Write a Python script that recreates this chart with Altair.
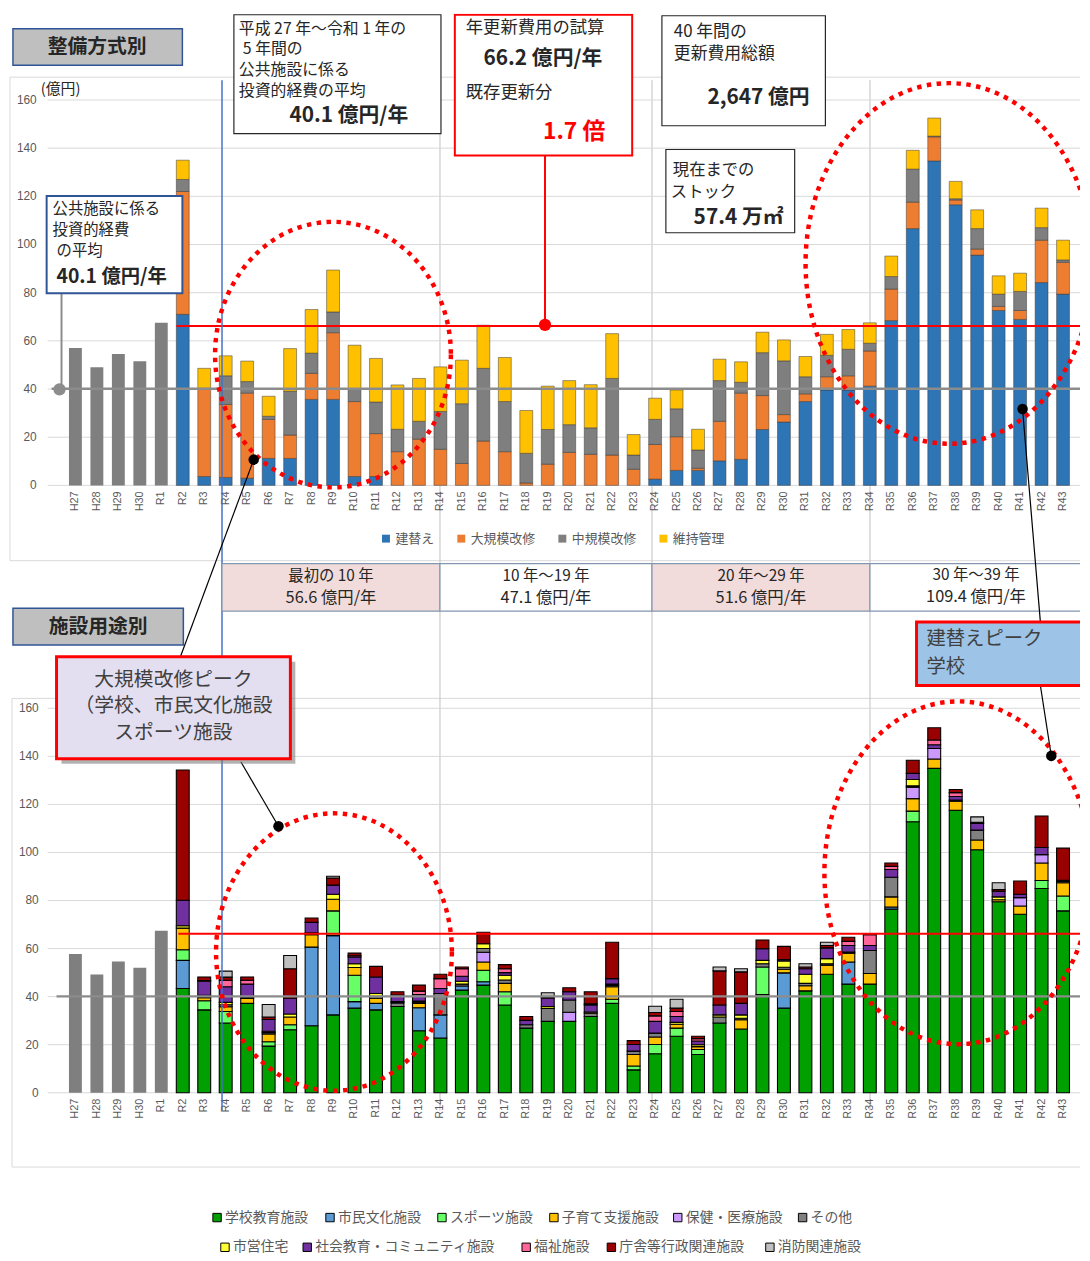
import altair as alt
import pandas as pd

JP = "Noto Sans CJK JP"
LAT = "Liberation Sans"

# ---------------- data ----------------
years = ["H27", "H28", "H29", "H30", "R1", "R2", "R3", "R4", "R5", "R6", "R7", "R8", "R9",
         "R10", "R11", "R12", "R13", "R14", "R15", "R16", "R17", "R18", "R19", "R20", "R21",
         "R22", "R23", "R24", "R25", "R26", "R27", "R28", "R29", "R30", "R31", "R32", "R33",
         "R34", "R35", "R36", "R37", "R38", "R39", "R40", "R41", "R42", "R43"]
actual_years = years[:5]
plan_years = years[5:]
ticks = [0, 20, 40, 60, 80, 100, 120, 140, 160]
avg_line = [40.1]
renew_line = [66.2]

# 整備方式別 (top)
top_actual = [57.0, 49.0, 54.5, 51.5, 67.5]
top_cats = ["建替え", "大規模改修", "中規模改修", "維持管理"]
top_colors = ["#2e75b6", "#ed7d31", "#7f7f7f", "#ffc000"]
top_rebuild = [71.0, 3.7, 3.3, 3.0, 11.2, 11.2, 35.7, 35.7, 3.7, 3.7,
               0, 0, 0, 0, 0, 0, 0, 0, 0, 0, 0, 0,
               2.6, 6.2, 6.2, 10.2, 10.8, 23.2, 26.3, 34.8, 39.6, 39.6,
               41.2, 68.4, 106.6, 134.7, 116.5, 95.6, 72.6, 68.9, 84.2, 79.4]
top_major = [51.0, 36.3, 30.3, 35.3, 16.2, 9.7, 10.8, 27.7, 31.1, 17.8,
             14.0, 19.2, 15.0, 9.1, 18.4, 14.0, 1.0, 8.8, 13.7, 12.9,
             12.6, 6.7, 14.4, 14.0, 0.9, 16.4, 27.5, 14.1, 3.1, 3.2,
             5.5, 5.9, 14.6, 13.1, 11.0, 10.0, 2.0, 2.5, 1.7, 3.7, 17.6, 13.2]
top_mid = [5.0, 0.3, 11.9, 4.8, 1.3, 18.2, 8.4, 8.6, 5.1, 13.1,
           9.3, 7.4, 15.7, 24.8, 30.2, 20.8, 12.3, 14.4, 11.5, 11.0,
           31.8, 5.9, 10.4, 11.6, 7.6, 16.9, 4.5, 17.8, 22.3, 7.1,
           8.9, 11.0, 3.2, 5.2, 13.7, 0.3, 0.5, 8.5, 5.1, 7.9, 5.2, 1.0]
top_maint = [8.0, 8.3, 8.3, 8.5, 8.3, 17.7, 18.1, 17.4, 18.3, 18.1,
             18.4, 17.8, 18.5, 18.1, 17.9, 18.3, 17.8, 18.0, 18.3, 17.9,
             18.6, 8.5, 8.8, 7.8, 8.6, 8.9, 8.5, 8.5, 8.7, 8.4,
             8.7, 8.2, 8.5, 8.5, 7.8, 7.5, 7.2, 7.8, 7.6, 7.6, 8.1, 8.2]

# 施設用途別 (bottom)
bot_actual = [57.7, 49.2, 54.6, 52.0, 67.4]
bot_cats = ["学校教育施設", "市民文化施設", "スポーツ施設", "子育て支援施設", "保健・医療施設", "その他",
            "市営住宅", "社会教育・コミュニティ施設", "福祉施設", "庁舎等行政関連施設", "消防関連施設"]
bot_colors = ["#00a000", "#5b9bd5", "#66ff66", "#ffc000", "#cc99ff", "#808080",
              "#ffff33", "#7030a0", "#ff6699", "#990000", "#bfbfbf"]
school = [43.4, 34.5, 29.0, 37.2, 19.4, 26.2, 27.9, 32.4, 35.2, 34.5,
          35.9, 25.8, 22.8, 42.7, 44.8, 36.5, 26.9, 29.7, 29.7, 31.7,
          37.2, 9.5, 16.2, 23.5, 15.9, 29.0, 26.5, 40.9, 35.2, 42.4,
          49.3, 45.2, 45.2, 76.4, 112.8, 135.0, 117.6, 101.1, 79.5, 74.3, 85.0, 75.7]
culture = [11.7, 0, 0, 0, 0, 0, 32.7, 33.0, 2.7, 2.7,
           0, 9.6, 9.6, 1.7, 1.4, 0, 0, 0, 0, 0,
           0, 0, 0, 0, 0, 0, 0, 0, 14.7, 0,
           0, 9.2, 0, 0.9, 0, 0, 0, 0, 0, 0, 0, 0]
sports = [4.4, 3.8, 4.8, 0, 1.8, 2.1, 0, 10.3, 11.0, 0,
          0, 0, 0, 0, 4.8, 5.5, 0, 0, 0, 0,
          1.7, 1.6, 3.9, 3.4, 2.1, 0, 0, 11.4, 0, 0,
          0, 0, 0, 0, 4.4, 0, 0, 0, 0, 0, 3.3, 6.2]
childcare = [9.0, 1.2, 2.0, 2.0, 3.3, 3.2, 5.2, 4.8, 3.2, 2.1,
             0, 1.8, 0, 0, 3.4, 3.5, 0, 0, 0, 0,
             5.2, 4.8, 3.1, 1.6, 1.2, 0, 3.9, 0, 1.5, 2.1,
             3.8, 3.7, 4.4, 4.2, 5.2, 3.9, 3.7, 4.1, 0.8, 3.4, 7.3, 5.5]
health = [0, 0, 0, 0, 0, 0, 0, 0, 0, 0,
          0, 0, 0, 0, 4.1, 0, 0, 0, 3.8, 0,
          0, 0, 0, 0, 0, 0, 0, 0, 0, 0,
          0, 0, 0, 0, 4.8, 4.4, 0, 0, 0, 3.5, 3.5, 0]
other = [0, 0.5, 0.8, 0.6, 0.6, 0, 0.8, 0, 0, 0.8,
         1.5, 0.5, 8.9, 0.8, 1.5, 1.4, 1.4, 5.4, 5.1, 1.4,
         0.6, 1.4, 1.6, 0, 0, 2.5, 0.6, 1.4, 0.8, 1.0,
         0.6, 0.5, 9.6, 8.2, 0.5, 0, 0.5, 4.1, 0, 0, 0, 0.5]
housing = [1.0, 0.6, 1.0, 0, 0.5, 1.3, 0, 2.1, 1.6, 1.2,
           0.5, 0.5, 0, 1.2, 2.0, 2.0, 0, 0.8, 0, 0.5,
           0.5, 0, 0, 0.8, 0.8, 0.9, 1.4, 1.4, 2.6, 3.8,
           2.1, 0, 0, 0, 2.7, 0, 0, 0, 1.2, 0, 0, 0]
community = [10.6, 5.8, 6.5, 5.4, 4.9, 6.5, 4.3, 3.8, 2.8, 6.9,
             2.8, 2.7, 2.1, 2.1, 0, 1.1, 1.8, 3.4, 3.4, 2.9,
             2.3, 2.8, 4.9, 2.4, 1.5, 4.1, 4.8, 4.8, 0.6, 2.3,
             4.5, 2.7, 2.1, 3.2, 2.5, 1.5, 1.5, 2.8, 2.4, 1.4, 3.0, 0.5]
welfare = [0, 0.3, 2.7, 1.6, 0, 0, 0, 0, 0.5, 0,
           0, 1.4, 4.1, 3.1, 0, 1.6, 0, 0.5, 0, 0.5,
           0, 0, 2.3, 2.1, 1.0, 0, 0, 0, 0, 0,
           0, 1.7, 4.5, 1.3, 0, 2.0, 1.6, 0.5, 0, 0, 0, 0]
admin = [54.2, 1.5, 1.3, 1.4, 1.0, 12.3, 1.8, 3.0, 1.1, 4.4,
         1.3, 2.5, 1.8, 0.7, 4.8, 1.7, 1.6, 0, 1.7, 5.0,
         15.1, 1.6, 1.4, 1.4, 1.0, 14.2, 13.1, 3.7, 5.5, 0.7,
         1.0, 1.7, 0.5, 1.4, 5.5, 5.1, 1.3, 0, 0.7, 5.5, 13.1, 13.4]
fire = [0, 0, 2.5, 0, 5.2, 5.5, 0, 0.7, 0, 0,
        0, 0, 0, 0, 0, 0, 0, 1.8, 0, 0,
        0, 0, 2.6, 3.7, 0, 1.6, 1.3, 0, 0, 1.4,
        1.3, 0, 0, 0, 0, 0, 0, 2.2, 2.8, 0, 0, 0]

top_series = [top_rebuild, top_major, top_mid, top_maint]
bot_series = [school, culture, sports, childcare, health, other, housing,
              community, welfare, admin, fire]
for s in top_series + bot_series:
    assert len(s) == len(plan_years), len(s)


def long_table(cats, series):
    rows = []
    for ci, (cat, vals) in enumerate(zip(cats, series)):
        for yr, v in zip(plan_years, vals):
            if v > 0:
                rows.append({"year": yr, "cat": cat, "value": v, "ord": ci})
    return pd.DataFrame(rows)


top_df = long_table(top_cats, top_series)
bot_df = long_table(bot_cats, bot_series)
top_act_df = pd.DataFrame({"year": actual_years, "value": top_actual})
bot_act_df = pd.DataFrame({"year": actual_years, "value": bot_actual})
tick_df = pd.DataFrame({"v": ticks})
year_df = pd.DataFrame({"year": years})
avg_df = pd.DataFrame({"v": avg_line})
renew_df = pd.DataFrame({"v": renew_line})

# ---------------- layout (page pixel coordinates) ----------------
RIGHT = 1090
# bottom legend item positions (layout only): square x, row y
bot_legend_x = [219, 333, 446, 559, 684, 810, 227, 310, 531, 617, 777]
bot_legend_y = [1223, 1223, 1223, 1223, 1223, 1223, 1253, 1253, 1253, 1253, 1253]


def P(v):
    return v - 8


one = alt.Data(values=[{"k": 1}])


def box(x1, y1, x2, y2, fill="white", stroke="black", sw=1.0, fo=1.0):
    return alt.Chart(one).mark_rect(fill=fill, fillOpacity=fo, stroke=stroke, strokeWidth=sw,
                                    clip=True).encode(
        x=alt.value(P(x1)), x2=alt.value(P(x2)), y=alt.value(P(y1)), y2=alt.value(P(y2)))


def txt(x, y, s, size=18, weight="normal", color="#262626", align="left", font=JP):
    return alt.Chart(one).mark_text(text=s, fontSize=size, fontWeight=weight, color=color,
                                    align=align, baseline="middle", font=font).encode(
        x=alt.value(P(x)), y=alt.value(P(y)))


def seg(x1, y1, x2, y2, color="black", sw=1.0):
    return alt.Chart(one).mark_rule(color=color, strokeWidth=sw, clip=True).encode(
        x=alt.value(P(x1)), y=alt.value(P(y1)), x2=alt.value(P(x2)), y2=alt.value(P(y2)))


def dot(x, y, d, color="black"):
    return alt.Chart(one).mark_circle(size=3.1416 * (d / 2) ** 2, color=color, opacity=1).encode(
        x=alt.value(P(x)), y=alt.value(P(y)))


def ellipse(cx, cy, rx, ry):
    m = max(rx, ry)
    a, b, k = rx / m, ry / m, 0.5523
    path = (f"M {a:.4f} 0 C {a:.4f} {k*b:.4f} {k*a:.4f} {b:.4f} 0 {b:.4f} "
            f"C {-k*a:.4f} {b:.4f} {-a:.4f} {k*b:.4f} {-a:.4f} 0 "
            f"C {-a:.4f} {-k*b:.4f} {-k*a:.4f} {-b:.4f} 0 {-b:.4f} "
            f"C {k*a:.4f} {-b:.4f} {a:.4f} {-k*b:.4f} {a:.4f} 0 Z")
    return alt.Chart(one).mark_point(shape=path, size=4 * m * m, filled=False, color="#ff0000",
                                     stroke="#ff0000", strokeWidth=4.5, strokeDash=[4.5, 5.5],
                                     opacity=1, clip=True).encode(
        x=alt.value(P(cx)), y=alt.value(P(cy)))


# ---------------- scales ----------------
xs = alt.Scale(domain=years, range=[P(65.2), P(1083.7)], paddingInner=0.4, paddingOuter=0.2)
ys_top = alt.Scale(domain=[0, 160], range=[P(484), P(95)], nice=False, zero=False)
ys_bot = alt.Scale(domain=[0, 160], range=[P(1097), P(709)], nice=False, zero=False)
X = alt.X("year:N", scale=xs, axis=None)


def panel(ys, act_df, df, cats, colors, legend, stroke, sw, label_y, ylab_x, gray_x0, red_x0,
          extra=()):
    cscale = alt.Scale(domain=cats, range=colors)
    grid = alt.Chart(tick_df).mark_rule(color="#d9d9d9", strokeWidth=1).encode(
        y=alt.Y("v:Q", scale=ys, axis=None), x=alt.value(P(48)), x2=alt.value(P(RIGHT)))
    ylab = alt.Chart(tick_df).mark_text(align="right", baseline="middle", fontSize=12,
                                        color="#595959", font=LAT).encode(
        y=alt.Y("v:Q", scale=ys, axis=None), x=alt.value(P(ylab_x)), text="v:Q")
    xlab = alt.Chart(year_df).mark_text(angle=270, align="right", baseline="middle", fontSize=11,
                                        color="#595959", font=LAT).encode(
        x=X, y=alt.value(P(label_y)), text="year:N")
    act = alt.Chart(act_df).mark_bar(color="#7f7f7f").encode(
        x=X, y=alt.Y("value:Q", scale=ys, axis=None))
    bars = alt.Chart(df).mark_bar(stroke=stroke, strokeWidth=sw).encode(
        x=X,
        y=alt.Y("value:Q", stack="zero", scale=ys, axis=None),
        color=alt.Color("cat:N", scale=cscale, legend=legend),
        order=alt.Order("ord:Q"),
    )
    gray = alt.Chart(avg_df).mark_rule(color="#8c8c8c", strokeWidth=2.5).encode(
        y=alt.Y("v:Q", scale=ys, axis=None), x=alt.value(P(gray_x0)), x2=alt.value(P(RIGHT)))
    red = alt.Chart(renew_df).mark_rule(color="#ff0000", strokeWidth=2).encode(
        y=alt.Y("v:Q", scale=ys, axis=None), x=alt.value(P(red_x0)), x2=alt.value(P(RIGHT)))
    return alt.layer(grid, ylab, xlab, act, bars, gray, red, *[e(cscale) for e in extra])


top_legend = alt.Legend(orient="none", legendX=P(383), legendY=P(531), direction="horizontal",
                        columns=4, title=None, symbolType="square", symbolSize=64,
                        symbolStrokeWidth=0, labelFontSize=13, labelFont=JP,
                        labelColor="#595959", columnPadding=20, labelOffset=3, labelLimit=400)

# bottom legend drawn as squares + labels coloured through the same colour scale
leg_df = pd.DataFrame({
    "cat": bot_cats,
    "sx": [P(v) for v in bot_legend_x],
    "tx": [P(v + 8) for v in bot_legend_x],
    "sy": [P(v) for v in bot_legend_y],
})


def leg_squares(cscale):
    return alt.Chart(leg_df).mark_square(size=72, stroke="black", strokeWidth=1, opacity=1,
                                         filled=True).encode(
        x=alt.X("sx:Q", scale=None), y=alt.Y("sy:Q", scale=None),
        color=alt.Color("cat:N", scale=cscale, legend=None))


def leg_labels(cscale):
    return alt.Chart(leg_df).mark_text(align="left", baseline="middle", fontSize=14, font=JP,
                                       color="#595959").encode(
        x=alt.X("tx:Q", scale=None), y=alt.Y("sy:Q", scale=None), text="cat:N")


top_panel = panel(ys_top, top_act_df, top_df, top_cats, top_colors, top_legend,
                  "#3a3a3a", 0.5, 490, 37, 52, 178)
bot_panel = panel(ys_bot, bot_act_df, bot_df, bot_cats, bot_colors, None,
                  "black", 1.1, 1103, 39, 57, 180, extra=(leg_squares, leg_labels))

layers = [
    # frames
    box(10, 72, 1098, 560, stroke="#d9d9d9", sw=1, fo=0),
    box(12, 699, 1098, 1172, stroke="#d9d9d9", sw=1, fo=0),
    # decade separators
    seg(444, 75, 444, 1115, "#bfbfbf", 1),
    seg(658, 75, 658, 1115, "#bfbfbf", 1),
    seg(878, 75, 878, 1115, "#bfbfbf", 1),
    top_panel,
    bot_panel,
    seg(224, 75, 224, 1115, "#4472c4", 1.5),
    # period table
    box(224, 563, 444, 611, fill="#f2dcdb", stroke="#8497b0", sw=1.2),
    box(444, 563, 658, 611, fill="white", stroke="#8497b0", sw=1.2),
    box(658, 563, 878, 611, fill="#f2dcdb", stroke="#8497b0", sw=1.2),
    box(878, 563, 1098, 611, fill="white", stroke="#8497b0", sw=1.2),
    txt(334, 576, "最初の 10 年", 15.5, align="center"),
    txt(334, 598, "56.6 億円/年", 16.5, align="center"),
    txt(551, 576, "10 年～19 年", 15.5, align="center"),
    txt(551, 598, "47.1 億円/年", 16.5, align="center"),
    txt(768, 576, "20 年～29 年", 15.5, align="center"),
    txt(768, 598, "51.6 億円/年", 16.5, align="center"),
    txt(985, 575, "30 年～39 年", 15.5, align="center"),
    txt(985, 597, "109.4 億円/年", 16.5, align="center"),
    # dotted ellipses
    ellipse(336, 352, 119, 134),
    ellipse(958, 260, 145, 182),
    ellipse(337, 955, 119, 140),
    ellipse(967, 875, 135, 173),
    # connectors
    seg(62, 290, 62, 387, "#8c8c8c", 2),
    dot(60, 387, 14, "#8c8c8c"),
    seg(550, 151, 550, 322, "#ff0000", 2),
    dot(550, 322, 14, "#ff0000"),
    seg(256, 458, 182, 657, "black", 1.2),
    dot(256, 458, 12),
    seg(243, 763, 281, 828, "black", 1.2),
    dot(281, 828, 12),
    seg(1032, 407, 1050, 622, "black", 1.2),
    dot(1032, 407, 12),
    seg(1050, 686, 1061, 757, "black", 1.2),
    dot(1061, 757, 12),
    # section headers
    box(13, 23, 184, 60, fill="#bfbfbf", stroke="#2f5597", sw=1.5),
    txt(98, 42, "整備方式別", 20, "bold", align="center"),
    box(13, 608, 185, 645, fill="#bfbfbf", stroke="#2f5597", sw=1.5),
    txt(99, 627, "施設用途別", 20, "bold", align="center"),
    txt(41, 84, "(億円)", 15),
    # box: 5-year average
    box(236, 9, 445, 129, stroke="#262626", sw=1.2),
    txt(241, 23, "平成 27 年～令和 1 年の", 16),
    txt(245, 44, "5 年間の", 16),
    txt(241, 65, "公共施設に係る", 16),
    txt(241, 86, "投資的経費の平均", 16),
    txt(352, 111, "40.1 億円/年", 21, "bold", align="center"),
    # box: average (left)
    box(47, 192, 184, 290, stroke="#2f5597", sw=2),
    txt(53, 205, "公共施設に係る", 15.5),
    txt(53, 226, "投資的経費", 15.5),
    txt(57, 247, "の平均", 15.5),
    txt(57, 274, "40.1 億円/年", 19.5, "bold"),
    # box: renewal estimate
    box(459, 9, 638, 151, stroke="#ff0000", sw=2),
    txt(470, 22, "年更新費用の試算", 17.5),
    txt(488, 54, "66.2 億円/年", 21, "bold"),
    txt(470, 88, "既存更新分", 17.5),
    txt(548, 127, "1.7 倍", 23, "bold", color="#ff0000"),
    # box: 40-year total
    box(668, 10, 833, 121, stroke="#262626", sw=1.2),
    txt(680, 26, "40 年間の", 17),
    txt(680, 49, "更新費用総額", 17),
    txt(714, 93, "2,647 億円", 21, "bold"),
    # box: stock
    box(672, 145, 802, 229, stroke="#262626", sw=1.2),
    txt(679, 166, "現在までの", 16.5),
    txt(677, 188, "ストック", 16.5),
    txt(700, 214, "57.4 万㎡", 21, "bold"),
    # callout: major renovation peak
    box(62, 662, 298, 765, fill="#7f7f7f", stroke="#7f7f7f", sw=0, fo=0.6),
    box(57, 657, 293, 760, fill="#e4dff0", stroke="#ff0000", sw=3),
    txt(175, 680, "大規模改修ピーク", 20, align="center", color="#404040"),
    txt(175, 707, "（学校、市民文化施設", 20, align="center", color="#404040"),
    txt(175, 734, "スポーツ施設", 20, align="center", color="#404040"),
    # callout: rebuild peak
    box(925, 622, 1100, 686, fill="#9dc3e6", stroke="#ff0000", sw=3),
    txt(935, 639, "建替えピーク", 19.5, color="#404040"),
    txt(935, 667, "学校", 19.5, color="#404040"),
]

chart = (
    alt.layer(*layers)
    .resolve_scale(y="independent", color="independent")
    .properties(width=1082, height=1245, padding=0)
    .configure_view(strokeWidth=0)
)

chart.save("out.html", embed_options={"renderer": "svg", "actions": False})
